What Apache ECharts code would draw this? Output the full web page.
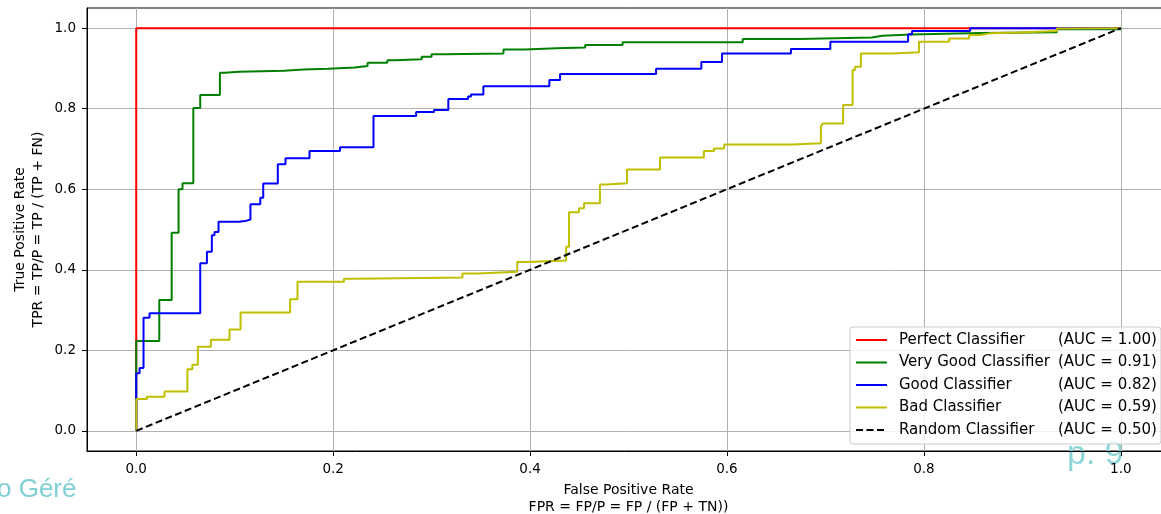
<!DOCTYPE html>
<html>
<head>
<meta charset="utf-8">
<script src="https://cdn.jsdelivr.net/npm/echarts@6/dist/echarts.min.js"></script>
<style>
html,body{margin:0;padding:0;background:#fff;}
#chart{width:1161px;height:514px;}
</style>
</head>
<body>
<div id="chart"></div>
<script>
// ---- data ----
const seriesNames = ['Perfect Classifier', 'Very Good Classifier', 'Good Classifier', 'Bad Classifier', 'Random Classifier'];
const aucLabels = ['1.00', '0.91', '0.82', '0.59', '0.50'];
const tickValues = [0, 0.2, 0.4, 0.6, 0.8, 1.0];

// jumps: FPR where the TPR rises, and the TPR level after the rise
const perfectFpr = [0];
const perfectTpr = [1.0];

const veryGoodFpr = [0, 0.0234, 0.036, 0.043, 0.047, 0.058, 0.065, 0.085, 0.090, 0.104, 0.150, 0.170, 0.195, 0.222, 0.235, 0.255, 0.263, 0.290, 0.300, 0.314, 0.373, 0.395, 0.427, 0.456, 0.494, 0.616, 0.673, 0.747, 0.758, 0.787, 0.857, 0.935, 1.0];
const veryGoodTpr = [0.223, 0.325, 0.492, 0.600, 0.615, 0.802, 0.834, 0.889, 0.892, 0.894, 0.897, 0.899, 0.902, 0.906, 0.914, 0.920, 0.923, 0.929, 0.935, 0.937, 0.947, 0.950, 0.952, 0.958, 0.965, 0.973, 0.977, 0.981, 0.984, 0.988, 0.990, 0.997, 1.0];

const goodFpr = [0, 0.0034, 0.0074, 0.0135, 0.065, 0.0718, 0.0768, 0.0795, 0.0836, 0.1046, 0.112, 0.116, 0.126, 0.129, 0.1438, 0.1516, 0.176, 0.207, 0.241, 0.2843, 0.3025, 0.317, 0.337, 0.340, 0.3526, 0.4196, 0.4305, 0.528, 0.574, 0.595, 0.665, 0.705, 0.784, 0.788, 0.847];
const goodTpr = [0.143, 0.156, 0.281, 0.292, 0.416, 0.445, 0.486, 0.494, 0.519, 0.522, 0.525, 0.563, 0.579, 0.614, 0.662, 0.677, 0.695, 0.704, 0.782, 0.792, 0.797, 0.824, 0.830, 0.835, 0.856, 0.871, 0.886, 0.899, 0.916, 0.937, 0.948, 0.966, 0.985, 0.993, 1.0];

const badFpr = [0, 0.0108, 0.0287, 0.052, 0.057, 0.0626, 0.0758, 0.0947, 0.106, 0.1563, 0.1638, 0.211, 0.2226, 0.3313, 0.347, 0.387, 0.3966, 0.4367, 0.4396, 0.4497, 0.4548, 0.471, 0.478, 0.4985, 0.532, 0.5766, 0.5868, 0.5972, 0.6667, 0.6954, 0.697, 0.718, 0.7276, 0.730, 0.736, 0.768, 0.795, 0.8257, 0.846, 0.857, 0.867, 0.8975, 0.935, 0.943];
const badTpr = [0.079, 0.085, 0.098, 0.153, 0.164, 0.209, 0.226, 0.252, 0.294, 0.327, 0.370, 0.378, 0.381, 0.391, 0.395, 0.419, 0.423, 0.457, 0.543, 0.553, 0.565, 0.612, 0.615, 0.649, 0.679, 0.695, 0.701, 0.711, 0.714, 0.755, 0.763, 0.809, 0.896, 0.904, 0.937, 0.940, 0.966, 0.974, 0.983, 0.987, 0.989, 0.993, 0.999, 1.0];

const randomFpr = [0, 1];
const randomTpr = [0, 1];

// build ROC corner points (up, then right) from the jump arrays
function rocCorners(fpr, tpr) {
  const pts = [[0, 0]];
  let prev = 0;
  for (let i = 0; i < fpr.length; i++) {
    pts.push([fpr[i], prev]);
    pts.push([fpr[i], tpr[i]]);
    prev = tpr[i];
  }
  if (fpr[fpr.length - 1] < 1) pts.push([1, prev]);
  return pts;
}
function zipPts(a, b) { return a.map((v, i) => [v, b[i]]); }

const chart = echarts.init(document.getElementById('chart'), null, {renderer: 'canvas'});
const FONT = 'DejaVu Sans';
const lineW = 2;

function lineSeries(name, data, color, extra) {
  return Object.assign({
    name: name,
    type: 'line',
    data: data,
    showSymbol: false,
    symbol: 'none',
    animation: false,
    lineStyle: {color: color, width: lineW},
    itemStyle: {color: color}
  }, extra || {});
}

const option = {
  animation: false,
  backgroundColor: '#fff',
  grid: {
    left: 87, top: 8, width: 1083, height: 443,
    outerBoundsMode: 'none', containLabel: false,
    show: true, borderColor: '#000', borderWidth: 1, backgroundColor: 'transparent'
  },
  xAxis: {
    type: 'value', min: -0.05, max: 1.05,
    name: 'False Positive Rate\nFPR = FP/P = FP / (FP + TN))',
    nameLocation: 'middle', nameGap: 31,
    nameTextStyle: {fontFamily: FONT, fontSize: 14, color: '#000', lineHeight: 17},
    axisLine: {show: true, onZero: false, lineStyle: {color: '#000', width: 1}},
    axisTick: {show: true, length: 5, customValues: tickValues, lineStyle: {color: '#000'}},
    axisLabel: {customValues: tickValues, fontFamily: FONT, fontSize: 13.5, color: '#000', margin: 11,
      formatter: v => v.toFixed(1)},
    splitLine: {show: true, customValues: tickValues, lineStyle: {color: '#b0b0b0', width: 1}}
  },
  yAxis: {
    type: 'value', min: -0.05, max: 1.05,
    name: 'True Positive Rate\nTPR = TP/P = TP / (TP + FN)',
    nameLocation: 'middle', nameGap: 40, nameRotate: 90, nameMoveOverlap: false,
    nameTextStyle: {fontFamily: FONT, fontSize: 14, color: '#000', lineHeight: 18},
    axisLine: {show: true, onZero: false, lineStyle: {color: '#000', width: 1}},
    axisTick: {show: true, length: 5, customValues: tickValues, lineStyle: {color: '#000'}},
    axisLabel: {customValues: tickValues, fontFamily: FONT, fontSize: 13.5, color: '#000', margin: 11,
      formatter: v => v.toFixed(1)},
    splitLine: {show: true, customValues: tickValues, lineStyle: {color: '#b0b0b0', width: 1}}
  },
  legend: {
    data: seriesNames,
    orient: 'vertical',
    left: 850, top: 327,
    padding: [4.5, 4, 5.5, 5],
    itemWidth: 31, itemHeight: 17, itemGap: 5.5,
    selectedMode: false,
    backgroundColor: 'rgba(255,255,255,0.8)',
    borderColor: '#cccccc', borderWidth: 1, borderRadius: 3,
    itemStyle: {opacity: 0},
    textStyle: {
      fontFamily: FONT, fontSize: 15, color: '#000', lineHeight: 17,
      rich: {
        n: {fontFamily: FONT, fontSize: 15, color: '#000', width: 159, padding: [0, 0, 0, 7]},
        a: {fontFamily: FONT, fontSize: 15, color: '#000'}
      }
    },
    formatter: function (name) {
      const i = seriesNames.indexOf(name);
      return '{n|' + name + '}{a|(AUC = ' + aucLabels[i] + ')}';
    }
  },
  graphic: [
    {type: 'text', left: -3, top: 477, silent: true,
      style: {text: 'o Géré', fontFamily: 'Liberation Sans', fontSize: 26, fill: '#80cfd3'}},
    {type: 'text', left: 1067, top: 438, silent: true,
      style: {text: 'p. 9', fontFamily: 'Liberation Sans', fontSize: 34, fill: '#8fd5d8'}}
  ],
  series: [
    lineSeries(seriesNames[0], rocCorners(perfectFpr, perfectTpr), '#ff0000'),
    lineSeries(seriesNames[1], rocCorners(veryGoodFpr, veryGoodTpr), '#008000'),
    lineSeries(seriesNames[2], rocCorners(goodFpr, goodTpr), '#0000ff'),
    lineSeries(seriesNames[3], rocCorners(badFpr, badTpr), '#bfbf00'),
    lineSeries(seriesNames[4], zipPts(randomFpr, randomTpr), '#000000',
      {lineStyle: {color: '#000', width: lineW, type: [7, 3.5]}})
  ]
};
chart.setOption(option);
</script>
</body>
</html>
